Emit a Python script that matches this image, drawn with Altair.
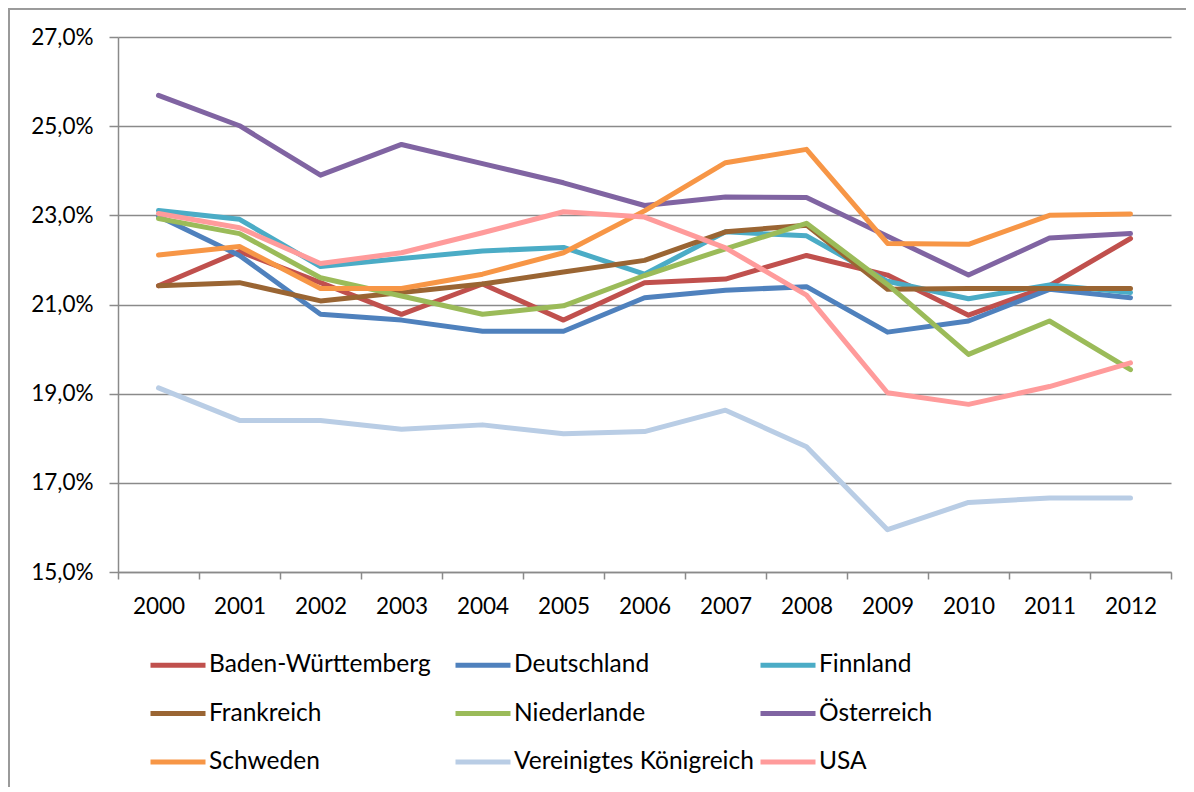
import altair as alt
import pandas as pd

years = [str(y) for y in range(2000, 2013)]
names = ["Baden-Württemberg", "Deutschland", "Finnland", "Frankreich", "Niederlande",
         "Österreich", "Schweden", "Vereinigtes Königreich", "USA"]
colors = ["#C0504D", "#4F81BD", "#4BACC6", "#9A6533", "#9BBB59",
          "#8064A2", "#F79646", "#B9CDE5", "#FF9B9B"]

bw = [21.42, 22.19, 21.49, 20.78, 21.46, 20.65, 21.49, 21.57, 22.10, 21.66, 20.76, 21.42, 22.48]
de = [22.98, 22.10, 20.78, 20.65, 20.40, 20.40, 21.15, 21.32, 21.40, 20.38, 20.63, 21.34, 21.15]
fi = [23.11, 22.91, 21.85, 22.03, 22.20, 22.28, 21.68, 22.63, 22.54, 21.52, 21.13, 21.44, 21.27]
fr = [21.42, 21.49, 21.08, 21.27, 21.46, 21.73, 21.99, 22.63, 22.78, 21.34, 21.36, 21.36, 21.36]
nl = [22.93, 22.59, 21.60, 21.19, 20.78, 20.97, 21.65, 22.25, 22.82, 21.45, 19.88, 20.63, 19.54]
at = [25.69, 25.01, 23.90, 24.59, 24.16, 23.73, 23.22, 23.41, 23.40, 22.53, 21.66, 22.49, 22.59]
se = [22.11, 22.30, 21.36, 21.36, 21.68, 22.16, 23.10, 24.18, 24.48, 22.37, 22.35, 23.00, 23.03]
uk = [19.13, 18.40, 18.40, 18.20, 18.30, 18.10, 18.15, 18.63, 17.81, 15.95, 16.56, 16.66, 16.66]
us = [23.04, 22.72, 21.92, 22.16, 22.61, 23.08, 22.96, 22.27, 21.21, 19.02, 18.76, 19.16, 19.69]

y_ticks = [15, 17, 19, 21, 23, 25, 27]

series = [bw, de, fi, fr, nl, at, se, uk, us]
rows = []
for i, (n, vals) in enumerate(zip(names, series)):
    for y, v in zip(years, vals):
        rows.append({"Jahr": y, "Land": n, "Wert": v, "ord": i})
df = pd.DataFrame(rows)

FONT = "Lato"
GRAY = "#8A8A8A"

lines = alt.Chart(df).mark_line(strokeWidth=5, strokeCap="round", strokeJoin="round").encode(
    x=alt.X("Jahr:O", bandPosition=0.5,
            scale=alt.Scale(type="band", paddingInner=0, paddingOuter=0),
            axis=alt.Axis(title=None, labelAngle=0, tickBand="extent", grid=False,
                          domainColor=GRAY, domainWidth=1.5, tickColor=GRAY, tickWidth=1.5,
                          tickSize=7, labelPadding=16, labelFont=FONT, labelFontSize=22.5,
                          labelColor="#000000", labelBaseline="top")),
    y=alt.Y("Wert:Q", scale=alt.Scale(domain=[15, 27], nice=False, zero=False),
            axis=alt.Axis(title=None, values=y_ticks, grid=True, gridColor=GRAY, gridWidth=1.5,
                          domainColor=GRAY, domainWidth=1.5, tickColor=GRAY, tickWidth=1.5,
                          tickSize=9, labelPadding=16, labelFont=FONT, labelFontSize=22.5,
                          labelColor="#000000",
                          labelExpr="replace(format(datum.value, '.1f'), '.', ',') + '%'")),
    color=alt.Color("Land:N", sort=names,
                    scale=alt.Scale(domain=names, range=colors),
                    legend=alt.Legend(title=None, orient="none", legendX=30, legendY=598,
                                      direction="horizontal",
                                      columns=3, gridAlign="all", columnPadding=-4, rowPadding=6.5,
                                      symbolType="stroke", symbolSize=3025, symbolStrokeWidth=5,
                                      labelFont=FONT, labelFontSize=24.5, labelColor="#000000",
                                      labelOffset=1, padding=0, labelLimit=400)),
    order=alt.Order("ord:Q"),
)

border_left = alt.Chart(df).mark_rule(color="#9A9A9A", strokeWidth=1.5).encode(
    x=alt.value(-109), y=alt.value(-29), y2=alt.value(760))
border_top = alt.Chart(df).mark_rule(color="#9A9A9A", strokeWidth=1.5).encode(
    x=alt.value(-109), x2=alt.value(1100), y=alt.value(-28.5))

chart = alt.layer(border_left, border_top, lines).properties(
    width=1053, height=535,
    autosize=alt.AutoSizeParams(type="none"),
    padding={"left": 110, "top": 29, "right": 15, "bottom": 215},
).configure_view(stroke=None)

chart.save("out.html", embed_options={"renderer": "svg", "actions": False})
